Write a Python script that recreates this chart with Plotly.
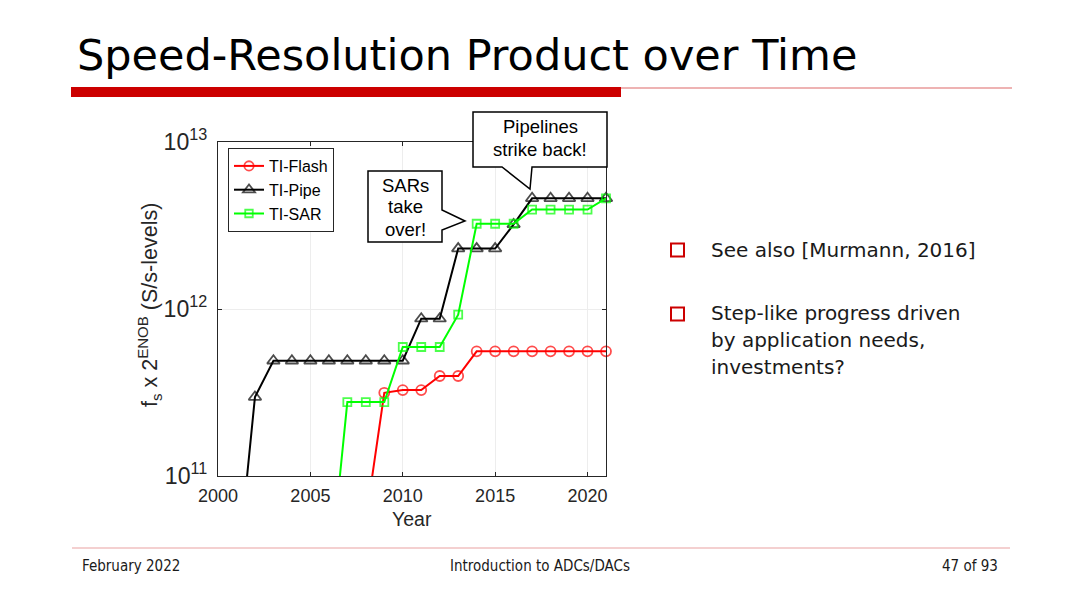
import plotly.graph_objects as go

# ---------------- data ----------------
years_flash = [2008, 2009, 2010, 2011, 2012, 2013, 2014, 2015, 2016, 2017, 2018, 2019, 2020, 2021]
ti_flash = [5.4e10, 3.15e11, 3.27e11, 3.27e11, 3.97e11, 3.97e11,
            5.58e11, 5.58e11, 5.58e11, 5.58e11, 5.58e11, 5.58e11, 5.58e11, 5.58e11]

years_pipe = [2001, 2002, 2003, 2004, 2005, 2006, 2007, 2008, 2009, 2010, 2011,
              2012, 2013, 2014, 2015, 2016, 2017, 2018, 2019, 2020, 2021]
ti_pipe = [2.3e10, 2.97e11, 4.9e11, 4.9e11, 4.9e11, 4.9e11, 4.9e11, 4.9e11, 4.9e11, 4.9e11,
           8.75e11, 8.75e11, 2.3e12, 2.3e12, 2.3e12, 3.21e12, 4.6e12, 4.6e12, 4.6e12, 4.6e12, 4.6e12]

years_sar = [2006, 2007, 2008, 2009, 2010, 2011, 2012, 2013, 2014, 2015, 2016,
             2017, 2018, 2019, 2020, 2021]
ti_sar = [2.2e10, 2.77e11, 2.77e11, 2.77e11, 5.92e11, 5.92e11, 5.92e11, 9.25e11,
          3.24e12, 3.24e12, 3.24e12, 3.94e12, 3.94e12, 3.94e12, 3.94e12, 4.6e12]

x_ticks = [2000, 2005, 2010, 2015, 2020]
series_names = ["TI-Flash", "TI-Pipe", "TI-SAR"]

title_text = "Speed-Resolution Product over Time"
callout_sar = ["SARs", "take", "over!"]
callout_pipe = ["Pipelines", "strike back!"]
bullets = [["See also [Murmann, 2016]"],
           ["Step-like progress driven", "by application needs,", "investments?"]]
footer = ["February 2022", "Introduction to ADCs/DACs", "47 of 93"]

# ---------------- helpers ----------------
W, H = 1080, 607
OFF = 8  # page body margin of the html page
def px(x):
    return (x - OFF) / W
def py(y):
    return 1 - (y - OFF) / H
def path(points):
    s = "M " + " L ".join(f"{px(x):.5f},{py(y):.5f}" for x, y in points) + " Z"
    return s

YMIN = 1e11
def sizes(vals, s):
    return [0 if v < YMIN else s for v in vals]

AX_FONT = "Arial, 'Liberation Sans', Helvetica, sans-serif"
SLIDE_FONT = "'DejaVu Sans', Verdana, sans-serif"
FOOT_FONT = "'DejaVu Sans Condensed', 'DejaVu Sans', Tahoma, sans-serif"
AXC = "#262626"

fig = go.Figure()
fig.add_trace(go.Scatter(x=years_flash, y=ti_flash, name=series_names[0], mode="lines+markers",
                         line=dict(color="#FF0000", width=2),
                         marker=dict(symbol="circle-open", size=sizes(ti_flash, 10), color="#FF0000",
                                     line=dict(width=1.8)),
                         cliponaxis=False))
fig.add_trace(go.Scatter(x=years_pipe, y=ti_pipe, name=series_names[1], mode="lines+markers",
                         line=dict(color="#000000", width=2),
                         marker=dict(symbol="triangle-up-open", size=sizes(ti_pipe, 11), color="#000000",
                                     line=dict(width=1.8)),
                         cliponaxis=False))
fig.add_trace(go.Scatter(x=years_sar, y=ti_sar, name=series_names[2], mode="lines+markers",
                         line=dict(color="#00FF00", width=2),
                         marker=dict(symbol="square-open", size=sizes(ti_sar, 8), color="#00FF00",
                                     line=dict(width=1.8)),
                         cliponaxis=False))

fig.update_layout(
    width=W, height=H, autosize=False,
    margin=dict(l=0, r=0, t=0, b=0, pad=0, autoexpand=False),
    paper_bgcolor="white", plot_bgcolor="white",
    showlegend=True,
    legend=dict(x=px(228), y=py(148), xanchor="left", yanchor="top",
                bgcolor="white", bordercolor=AXC, borderwidth=1,
                font=dict(family=AX_FONT, size=16, color="#000000"),
                tracegroupgap=0, itemwidth=30),
    xaxis=dict(domain=[px(218), px(606)], range=[2000, 2021], automargin=False,
               tickvals=x_ticks, ticks="inside", ticklen=4, tickcolor=AXC,
               showline=True, linecolor=AXC, linewidth=1, mirror="allticks",
               showgrid=True, gridcolor="#EDEDED", gridwidth=1, zeroline=False,
               ticklabelstandoff=3,
               tickfont=dict(family=AX_FONT, size=18, color=AXC)),
    yaxis=dict(domain=[py(476), py(142)], type="log", range=[11, 13], dtick=1, automargin=False,
               exponentformat="power", ticks="inside", ticklen=4, tickcolor=AXC,
               showline=True, linecolor=AXC, linewidth=1, mirror="allticks",
               showgrid=True, gridcolor="#EDEDED", gridwidth=1, zeroline=False,
               ticklabelstandoff=6,
               tickfont=dict(family=AX_FONT, size=18.5, color=AXC)),
)

shapes = []
# title bar
shapes.append(dict(type="rect", xref="paper", yref="paper", x0=px(71), x1=px(621), y0=py(97), y1=py(87),
                   fillcolor="#CC0000", line=dict(width=0), layer="above"))
shapes.append(dict(type="line", xref="paper", yref="paper", x0=px(621), x1=px(1012), y0=py(88), y1=py(88),
                   line=dict(color="#E89A9A", width=1.5)))
# footer line
shapes.append(dict(type="line", xref="paper", yref="paper", x0=px(72), x1=px(1010), y0=py(548), y1=py(548),
                   line=dict(color="#F0C0C0", width=1.5)))
# callouts
shapes.append(dict(type="path", xref="paper", yref="paper", layer="above",
                   path=path([(368, 171), (442, 171), (442, 210), (465, 221), (442, 230), (442, 242), (368, 242)]),
                   fillcolor="white", line=dict(color="#000000", width=1.5)))
shapes.append(dict(type="path", xref="paper", yref="paper", layer="above",
                   path=path([(473, 112), (607, 112), (607, 167), (532, 167), (530, 189), (502, 167), (473, 167)]),
                   fillcolor="white", line=dict(color="#000000", width=1.5)))
# bullet squares
for yc in [250, 314]:
    shapes.append(dict(type="rect", xref="paper", yref="paper", x0=px(671), x1=px(684), y0=py(yc + 6.5), y1=py(yc - 6.5),
                       fillcolor="rgba(0,0,0,0)", line=dict(color="#CC0000", width=2)))
fig.update_layout(shapes=shapes)

ann = []
ann.append(dict(text=title_text, x=px(75), y=py(55), xref="paper", yref="paper", xanchor="left", yanchor="middle",
                showarrow=False, font=dict(family=SLIDE_FONT, size=43, color="#000000")))
# axis titles
ann.append(dict(text="f<sub>s</sub> x 2<sup>ENOB</sup> (S/s-levels)", x=px(149), y=py(305), xref="paper", yref="paper",
                textangle=-90, showarrow=False, xanchor="center", yanchor="middle",
                font=dict(family=AX_FONT, size=21.5, color=AXC)))
ann.append(dict(text="Year", x=px(412), y=py(519), xref="paper", yref="paper", showarrow=False,
                xanchor="center", yanchor="middle", font=dict(family=AX_FONT, size=19.5, color=AXC)))
# callout texts
for t, yy in zip(callout_sar, [185, 207, 229]):
    ann.append(dict(text=t, x=px(405), y=py(yy), xref="paper", yref="paper", showarrow=False,
                    xanchor="center", yanchor="middle",
                    font=dict(family=AX_FONT, size=18.5, color="#000000")))
for t, yy in zip(callout_pipe, [127, 149]):
    ann.append(dict(text=t, x=px(540), y=py(yy), xref="paper", yref="paper", showarrow=False,
                    xanchor="center", yanchor="middle",
                    font=dict(family=AX_FONT, size=18.5, color="#000000")))
# bullets
bullet_y = [[250], [313, 340, 367]]
for lines, ys in zip(bullets, bullet_y):
    for t, yy in zip(lines, ys):
        ann.append(dict(text=t, x=px(709), y=py(yy), xref="paper", yref="paper", showarrow=False,
                        xanchor="left", yanchor="middle",
                        font=dict(family=SLIDE_FONT, size=20, color="#1A1A1A")))
# footer
ann.append(dict(text=footer[0], x=px(80), y=py(566), xref="paper", yref="paper", showarrow=False,
                xanchor="left", yanchor="middle", font=dict(family=FOOT_FONT, size=15, color="#1A1A1A")))
ann.append(dict(text=footer[1], x=px(540), y=py(566), xref="paper", yref="paper", showarrow=False,
                xanchor="center", yanchor="middle", font=dict(family=FOOT_FONT, size=15, color="#1A1A1A")))
ann.append(dict(text=footer[2], x=px(1000), y=py(566), xref="paper", yref="paper", showarrow=False,
                xanchor="right", yanchor="middle", font=dict(family=FOOT_FONT, size=15, color="#1A1A1A")))
fig.update_layout(annotations=ann)

fig.write_html("out.html")
